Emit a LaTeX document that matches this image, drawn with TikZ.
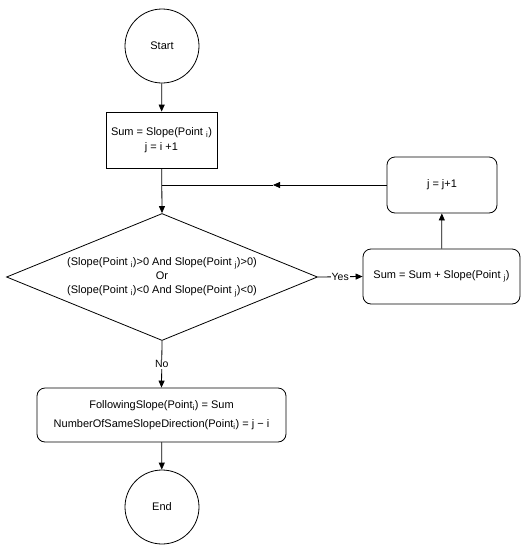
\documentclass[tikz,border=0pt]{standalone}
\usepackage{fontspec}
\setmainfont{Liberation Sans}
\usetikzlibrary{shapes.geometric,arrows.meta}
\begin{document}
\begin{tikzpicture}[x=1pt,y=-1pt,
  every node/.style={font=\fontsize{11}{14}\selectfont},
  conn/.style={line width=0.8pt,-{Triangle[length=7pt,width=6pt]}},
  plain/.style={line width=0.8pt},
  term/.style={draw,line width=0.8pt,circle,minimum size=74pt,inner sep=0pt},
  procbox/.style={draw,line width=0.8pt,minimum width=#1,minimum height=56pt,inner sep=0pt,align=center},
  rbox/.style={procbox=#1,rounded corners=8pt},
  decision/.style={draw,line width=0.8pt,diamond,aspect=2.45,minimum width=311pt,minimum height=127pt,inner sep=0pt,align=center},
  lbl/.style={fill=white,inner sep=1pt,font=\fontsize{10.5}{12}\selectfont}]
\useasboundingbox (0,0) rectangle (527,550);
\node[term] (start) at (162,46) {Start};
\node[procbox=111pt] (sum) at (161.5,140) {Sum = Slope(Point \textsubscript{i})\\[1pt] j = i +1};
\node[decision] (dec) at (162,277) {(Slope(Point \textsubscript{i})>0 And Slope(Point \textsubscript{j})>0)\\[0pt] Or\\[0pt] (Slope(Point \textsubscript{i})<0 And Slope(Point \textsubscript{j})<0)};
\node[rbox=157pt,minimum height=55pt] (add) at (441.5,276.5) {Sum = Sum + Slope(Point \textsubscript{j})};
\node[rbox=110pt] (inc) at (442,185) {j = j+1};
\node[rbox=249pt,minimum height=54pt] (fol) at (161.5,415) {FollowingSlope(Point\textsubscript{i}) = Sum\\[5pt] NumberOfSameSlopeDirection(Point\textsubscript{i}) = j − i};
\node[term] (end) at (162,507) {End};
\coordinate (junc) at (162,185);
\coordinate (mid) at (273,185);
\draw[conn] (start) -- (sum);
\draw[conn] (sum) -- (dec.north);
\draw[conn] (dec.east) -- node[lbl] {Yes} (add.west);
\draw[conn] (add) -- (inc);
\draw[conn] (inc.west) -- (mid);
\draw[plain] (mid) -- (junc);
\draw[conn] (dec.south) -- node[lbl] {No} (fol.north);
\draw[conn] (fol) -- (end);
\end{tikzpicture}
\end{document}
